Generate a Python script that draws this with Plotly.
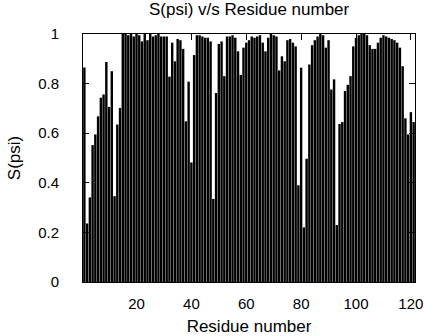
import plotly.graph_objects as go

residues = list(range(1, 122))
s_psi = [
    0.865, 0.236, 0.341, 0.552, 0.595, 0.668, 0.743, 0.756, 0.887, 0.706,
    0.850, 0.346, 0.635, 0.702, 1.000, 1.000, 0.995, 1.000, 0.990, 1.000,
    0.995, 0.970, 1.000, 0.975, 1.000, 0.990, 0.995, 1.000, 0.990, 0.990,
    0.990, 0.828, 0.965, 0.890, 0.980, 0.975, 0.940, 0.648, 0.808, 0.482,
    0.915, 0.995, 0.995, 0.990, 0.985, 0.985, 0.970, 0.335, 0.762, 0.960,
    0.970, 0.830, 0.990, 0.990, 0.995, 0.985, 0.930, 0.835, 0.945, 0.965,
    0.975, 0.990, 0.985, 0.990, 0.995, 0.965, 0.930, 0.985, 1.000, 0.995,
    0.990, 0.853, 0.910, 0.890, 0.975, 0.980, 0.965, 0.950, 0.390, 0.864,
    0.220, 0.497, 0.877, 0.955, 0.975, 0.990, 1.000, 0.995, 0.945, 0.975,
    0.776, 0.817, 0.230, 0.637, 0.645, 0.770, 0.795, 0.830, 0.950, 0.985,
    0.995, 1.000, 1.000, 0.995, 0.955, 0.940, 0.940, 0.965, 0.985, 0.995,
    0.990, 0.985, 0.980, 0.975, 0.965, 0.945, 0.870, 0.660, 0.595, 0.685,
    0.645,
]
x_ticks = [20, 40, 60, 80, 100, 120]
y_ticks = [0, 0.2, 0.4, 0.6, 0.8, 1]
y_tick_labels = ["0", "0.2", "0.4", "0.6", "0.8", "1"]

FONT = "Liberation Sans"

fig = go.Figure(
    go.Bar(
        x=residues,
        y=s_psi,
        marker=dict(color="black", line=dict(width=0)),
        width=0.88,
    )
)

fig.update_layout(
    width=424,
    height=336,
    margin=dict(l=83, r=9, t=34, b=54),
    paper_bgcolor="white",
    plot_bgcolor="white",
    showlegend=False,
    font=dict(family=FONT, size=16, color="black"),
    title=dict(
        text="S(psi) v/s Residue number",
        x=0.5875, xanchor="center",
        y=0.973, yanchor="middle",
        font=dict(family=FONT, size=17, color="black"),
    ),
)

fig.update_xaxes(
    range=[0.5, 121.5],
    tickvals=x_ticks,
    ticks="inside",
    ticklen=6,
    tickcolor="black",
    showline=True,
    linecolor="black",
    linewidth=1,
    mirror="ticks",
    showgrid=False,
    zeroline=False,
    automargin=False,
    tickfont=dict(family=FONT, size=15),
    ticklabelstandoff=8,
    title=dict(text="Residue number", standoff=11, font=dict(family=FONT, size=17)),
)

fig.update_yaxes(
    range=[0, 1],
    tickvals=y_ticks,
    ticktext=y_tick_labels,
    ticks="inside",
    ticklen=6,
    tickcolor="black",
    showline=True,
    linecolor="black",
    linewidth=1,
    mirror="ticks",
    showgrid=False,
    zeroline=False,
    automargin=False,
    tickfont=dict(family=FONT, size=15),
    ticklabelstandoff=20,
    title=dict(text="S(psi)", standoff=13, font=dict(family=FONT, size=17)),
)

fig.write_html("out.html")
